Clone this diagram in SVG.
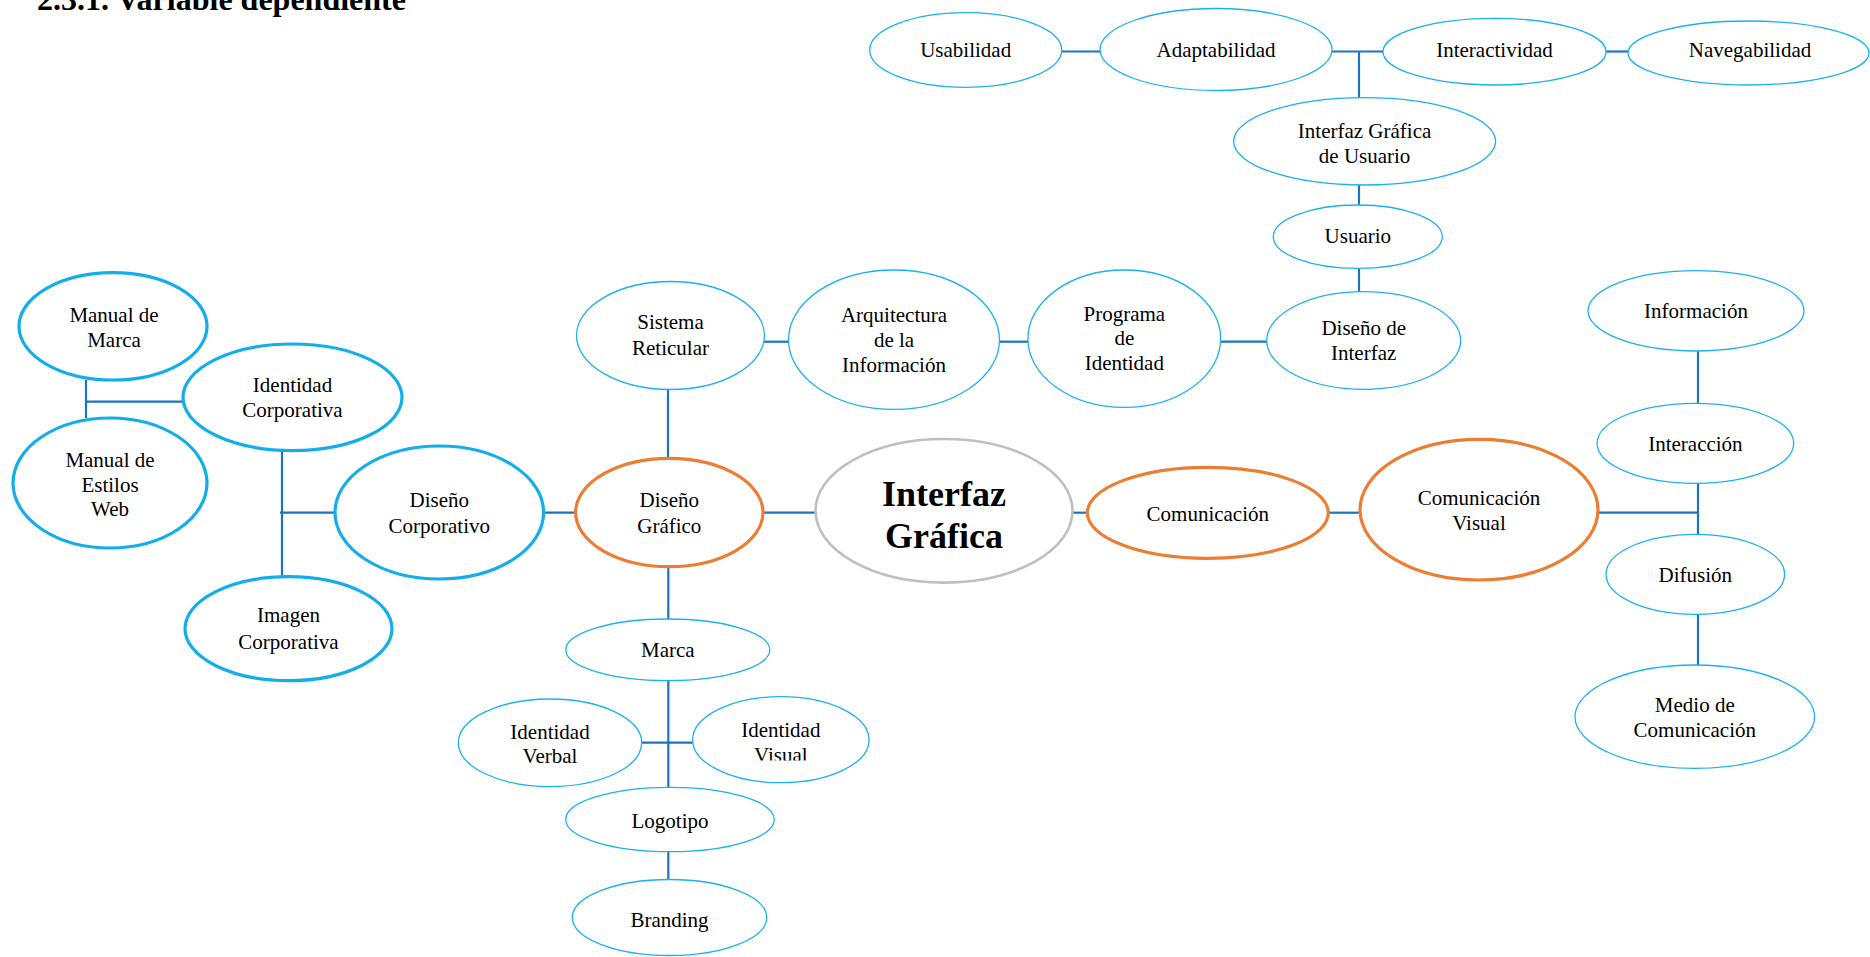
<svg xmlns="http://www.w3.org/2000/svg" width="1870" height="957" viewBox="0 0 1870 957">
  <defs>
    <style>
      text { font-family: "Liberation Serif", "Times New Roman", serif; font-size: 21px; fill: #000; text-anchor: middle; }
      .title { font-size: 32px; font-weight: bold; text-anchor: start; }
      .main { font-size: 36px; font-weight: bold; }
      ellipse { fill: #fff; }
      .thin { stroke: #1ab2ee; stroke-width: 1.3; }
      .thick { stroke: #12aeec; stroke-width: 3.2; }
      .orange { stroke: #ed7d31; stroke-width: 3.2; }
      .grey { stroke: #bfbfbf; stroke-width: 2.6; }
      #connectors line { stroke: #1c73c2; stroke-width: 2.2; }
    </style>
    <clipPath id="cut-visual">
      <rect x="690" y="690" width="180" height="70.5"/>
    </clipPath>
  </defs>
  <rect width="1870" height="957" fill="#fff"/>

  <text class="title" x="37" y="9.5">2.3.1. Variable dependiente</text>

  <!-- connectors -->
  <g id="connectors">
    <!-- top row -->
    <line x1="1061" y1="51.5" x2="1100" y2="51.5"/>
    <line x1="1332" y1="51.5" x2="1383" y2="51.5"/>
    <line x1="1606" y1="51.5" x2="1628" y2="51.5"/>
    <line x1="1359" y1="51.5" x2="1359" y2="98"/>
    <line x1="1359" y1="185" x2="1359" y2="205"/>
    <line x1="1359" y1="268" x2="1359" y2="292"/>
    <!-- upper chain -->
    <line x1="764" y1="341.7" x2="789" y2="341.7"/>
    <line x1="1000" y1="341.7" x2="1028" y2="341.7"/>
    <line x1="1220" y1="341.7" x2="1267" y2="341.7"/>
    <line x1="668" y1="389" x2="668" y2="458"/>
    <!-- main axis -->
    <line x1="280" y1="512.7" x2="335" y2="512.7"/>
    <line x1="543" y1="512.7" x2="576" y2="512.7"/>
    <line x1="763" y1="512.7" x2="816" y2="512.7"/>
    <line x1="1072" y1="512.7" x2="1088" y2="512.7"/>
    <line x1="1328" y1="512.7" x2="1360" y2="512.7"/>
    <line x1="1598" y1="512.7" x2="1698" y2="512.7"/>
    <!-- left cluster -->
    <line x1="86" y1="380" x2="86" y2="418"/>
    <line x1="86" y1="401.7" x2="183" y2="401.7"/>
    <line x1="282" y1="450" x2="282" y2="577"/>
    <!-- right cluster -->
    <line x1="1698" y1="351" x2="1698" y2="404"/>
    <line x1="1698" y1="483" x2="1698" y2="535"/>
    <line x1="1698" y1="614" x2="1698" y2="665"/>
    <!-- lower branch -->
    <line x1="668.3" y1="567" x2="668.3" y2="619"/>
    <line x1="668.3" y1="681" x2="668.3" y2="787"/>
    <line x1="642" y1="742.7" x2="693" y2="742.7"/>
    <line x1="668.3" y1="852" x2="668.3" y2="879.5"/>
  </g>

  <!-- nodes -->
  <g id="usabilidad">
    <ellipse class="thin" cx="965.7" cy="50" rx="96" ry="37.3"/>
    <text x="965.7" y="57.3">Usabilidad</text>
  </g>
  <g id="adaptabilidad">
    <ellipse class="thin" cx="1216" cy="49.5" rx="116" ry="41"/>
    <text x="1216" y="57.3">Adaptabilidad</text>
  </g>
  <g id="interactividad">
    <ellipse class="thin" cx="1494.5" cy="51.7" rx="111.5" ry="33.3"/>
    <text x="1494.5" y="57.3">Interactividad</text>
  </g>
  <g id="navegabilidad">
    <ellipse class="thin" cx="1748.5" cy="53" rx="120.5" ry="32"/>
    <text x="1750" y="57.3">Navegabilidad</text>
  </g>
  <g id="interfaz-grafica-usuario">
    <ellipse class="thin" cx="1364.6" cy="141.3" rx="131" ry="43.7"/>
    <text x="1364.6" y="138.3">Interfaz Gráfica</text>
    <text x="1364.6" y="163.3">de Usuario</text>
  </g>
  <g id="usuario">
    <ellipse class="thin" cx="1357.8" cy="236.7" rx="84.5" ry="31.7"/>
    <text x="1357.8" y="242.7">Usuario</text>
  </g>
  <g id="diseno-interfaz">
    <ellipse class="thin" cx="1363.7" cy="340.5" rx="97" ry="48.8"/>
    <text x="1363.7" y="335">Diseño de</text>
    <text x="1363.7" y="360">Interfaz</text>
  </g>
  <g id="programa-identidad">
    <ellipse class="thin" cx="1124.3" cy="338.7" rx="96.4" ry="68.7"/>
    <text x="1124.3" y="320.7">Programa</text>
    <text x="1124.3" y="345">de</text>
    <text x="1124.3" y="370">Identidad</text>
  </g>
  <g id="arquitectura-informacion">
    <ellipse class="thin" cx="894" cy="339.7" rx="105.5" ry="69.7"/>
    <text x="894" y="321.7">Arquitectura</text>
    <text x="894" y="347">de la</text>
    <text x="894" y="371.7">Información</text>
  </g>
  <g id="sistema-reticular">
    <ellipse class="thin" cx="670.5" cy="335.5" rx="94" ry="54"/>
    <text x="670.5" y="329.3">Sistema</text>
    <text x="670.5" y="355">Reticular</text>
  </g>

  <g id="manual-marca">
    <ellipse class="thick" cx="113" cy="326.3" rx="94" ry="53.7"/>
    <text x="114" y="321.7">Manual de</text>
    <text x="114" y="347.3">Marca</text>
  </g>
  <g id="identidad-corporativa">
    <ellipse class="thick" cx="292.5" cy="397.3" rx="109.5" ry="53.3"/>
    <text x="292.5" y="391.7">Identidad</text>
    <text x="292.5" y="417.3">Corporativa</text>
  </g>
  <g id="manual-estilos-web">
    <ellipse class="thick" cx="110" cy="483" rx="97" ry="65"/>
    <text x="110" y="466.7">Manual de</text>
    <text x="110" y="491.7">Estilos</text>
    <text x="110" y="516">Web</text>
  </g>
  <g id="diseno-corporativo">
    <ellipse class="thick" cx="439.3" cy="512.5" rx="104.3" ry="66.5"/>
    <text x="439.3" y="507">Diseño</text>
    <text x="439.3" y="533">Corporativo</text>
  </g>
  <g id="imagen-corporativa">
    <ellipse class="thick" cx="288.5" cy="628.7" rx="103.5" ry="52"/>
    <text x="288.5" y="622">Imagen</text>
    <text x="288.5" y="649">Corporativa</text>
  </g>

  <g id="diseno-grafico">
    <ellipse class="orange" cx="669.3" cy="512.5" rx="93.7" ry="54.2"/>
    <text x="669.3" y="507.3">Diseño</text>
    <text x="669.3" y="533.3">Gráfico</text>
  </g>
  <g id="interfaz-grafica">
    <ellipse class="grey" cx="944" cy="510.8" rx="128.5" ry="71.8"/>
    <text class="main" x="944" y="506">Interfaz</text>
    <text class="main" x="944" y="548.3">Gráfica</text>
  </g>
  <g id="comunicacion">
    <ellipse class="orange" cx="1207.8" cy="512.8" rx="120.5" ry="45.5"/>
    <text x="1207.8" y="520.7">Comunicación</text>
  </g>
  <g id="comunicacion-visual">
    <ellipse class="orange" cx="1479" cy="509.7" rx="119" ry="70.3"/>
    <text x="1479" y="505">Comunicación</text>
    <text x="1479" y="530">Visual</text>
  </g>

  <g id="informacion">
    <ellipse class="thin" cx="1696" cy="310.8" rx="108" ry="40.2"/>
    <text x="1696" y="318.3">Información</text>
  </g>
  <g id="interaccion">
    <ellipse class="thin" cx="1695.4" cy="443.3" rx="98.3" ry="40"/>
    <text x="1695.4" y="451">Interacción</text>
  </g>
  <g id="difusion">
    <ellipse class="thin" cx="1695.3" cy="574.3" rx="89.3" ry="40"/>
    <text x="1695.3" y="581.7">Difusión</text>
  </g>
  <g id="medio-comunicacion">
    <ellipse class="thin" cx="1694.8" cy="716.7" rx="119.8" ry="51.7"/>
    <text x="1694.8" y="711.7">Medio de</text>
    <text x="1694.8" y="737.3">Comunicación</text>
  </g>

  <g id="marca">
    <ellipse class="thin" cx="667.8" cy="649.8" rx="102" ry="30.8"/>
    <text x="667.8" y="656.7">Marca</text>
  </g>
  <g id="identidad-verbal">
    <ellipse class="thin" cx="550" cy="742.8" rx="91.7" ry="43.8"/>
    <text x="550" y="739.3">Identidad</text>
    <text x="550" y="763.3">Verbal</text>
  </g>
  <g id="identidad-visual">
    <ellipse class="thin" cx="780.8" cy="739.7" rx="88.2" ry="43"/>
    <g clip-path="url(#cut-visual)">
      <text x="780.8" y="737.3">Identidad</text>
      <text x="780.8" y="762">Visual</text>
    </g>
  </g>
  <g id="logotipo">
    <ellipse class="thin" cx="670" cy="819.5" rx="104.3" ry="32.2"/>
    <text x="670" y="827.7">Logotipo</text>
  </g>
  <g id="branding">
    <ellipse class="thin" cx="669.5" cy="917.5" rx="97.2" ry="38"/>
    <text x="669.5" y="926.7">Branding</text>
  </g>
</svg>
